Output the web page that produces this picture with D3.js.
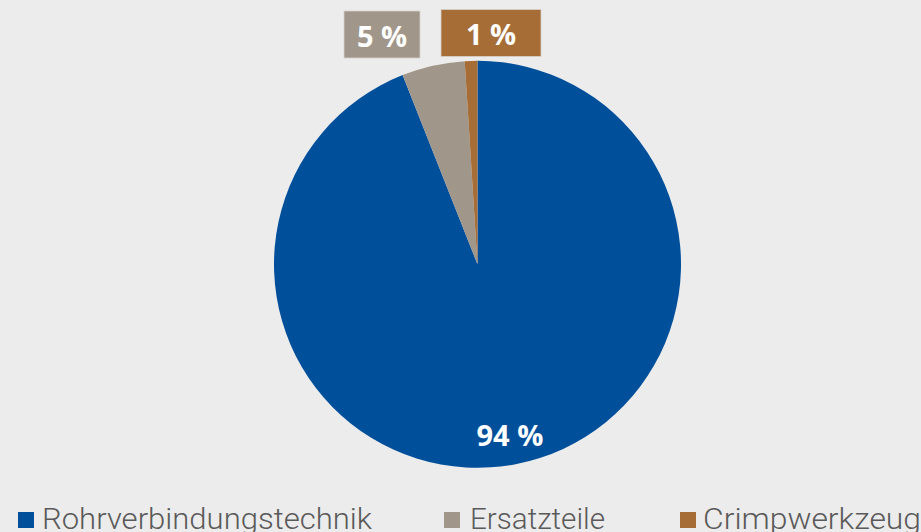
<!DOCTYPE html>
<html>
<head>
<meta charset="utf-8">
<script src="https://cdn.jsdelivr.net/npm/d3@7"></script>
<style>
  html, body { margin: 0; padding: 0; background: #ececec; }
  svg { display: block; }
</style>
</head>
<body>
<svg id="chart" width="921" height="532"></svg>
<script>
// Umsatzanteile nach Produktbereich
const categories = ["Rohrverbindungstechnik", "Ersatzteile", "Crimpwerkzeug"];
const shares = [94, 5, 1];
const labels = ["94 %", "5 %", "1 %"];
const colors = ["#004f9b", "#a0968a", "#a76d36"];

const svg = d3.select("#chart");
const W = 921, H = 532;
const cx = 477.5, cy = 264.3, R = 203.5;

const pie = d3.pie().sort(null).value(d => d)(shares);
const arc = d3.arc().innerRadius(0).outerRadius(R);

const g = svg.append("g").attr("transform", `translate(${cx},${cy})`);
g.selectAll("path.slice")
  .data(pie)
  .join("path")
  .attr("class", "slice")
  .attr("d", arc)
  .attr("fill", (d, i) => colors[i]);

// Wertbeschriftungen: großer Anteil im Segment, kleine Anteile in Kästen oberhalb
const labelFont = "'Open Sans', 'DejaVu Sans', sans-serif";
const inner = d3.arc().innerRadius(R * 0.85).outerRadius(R * 0.85);
const c0 = inner.centroid(pie[0]);
g.append("text")
  .attr("x", c0[0]).attr("y", c0[1])
  .attr("text-anchor", "middle").attr("dominant-baseline", "central")
  .attr("font-family", labelFont).attr("font-weight", 700)
  .attr("font-size", 29).attr("fill", "#fff")
  .text(labels[0]);

// Kästen für kleine Segmente (Layout relativ zum Kreismittelpunkt)
const boxes = [
  { i: 1, x: 344 - cx, y: 11 - cy, w: 76, h: 47 },
  { i: 2, x: 441 - cx, y: 9.5 - cy, w: 100, h: 47 }
];
boxes.forEach(b => {
  const bg = g.append("g").attr("transform", `translate(${b.x},${b.y})`);
  bg.append("rect").attr("width", b.w).attr("height", b.h)
    .attr("fill", colors[b.i]).attr("stroke", "#d8d2cc").attr("stroke-width", 0.8);
  bg.append("text")
    .attr("x", b.w / 2).attr("y", b.h / 2 + 1)
    .attr("text-anchor", "middle").attr("dominant-baseline", "central")
    .attr("font-family", labelFont).attr("font-weight", 700)
    .attr("font-size", 29).attr("fill", "#fff")
    .text(labels[b.i]);
});

// Legende
const legendFont = "'Liberation Sans Narrow', 'Roboto', 'Open Sans', sans-serif";
const legendItems = [
  { x: 18, tx: 42, tw: 330 },
  { x: 444, tx: 470, tw: 135 },
  { x: 680, tx: 703, tw: 218 }
];
const lg = svg.append("g");
categories.forEach((c, i) => {
  const it = legendItems[i];
  lg.append("rect").attr("x", it.x).attr("y", 512).attr("width", 16).attr("height", 16)
    .attr("fill", colors[i]);
  lg.append("text")
    .attr("x", it.tx).attr("y", 529)
    .attr("font-family", legendFont).attr("font-weight", 300)
    .attr("font-size", 30).attr("fill", "#5a5a5a")
    .attr("textLength", it.tw).attr("lengthAdjust", "spacingAndGlyphs")
    .text(c);
});
</script>
</body>
</html>
